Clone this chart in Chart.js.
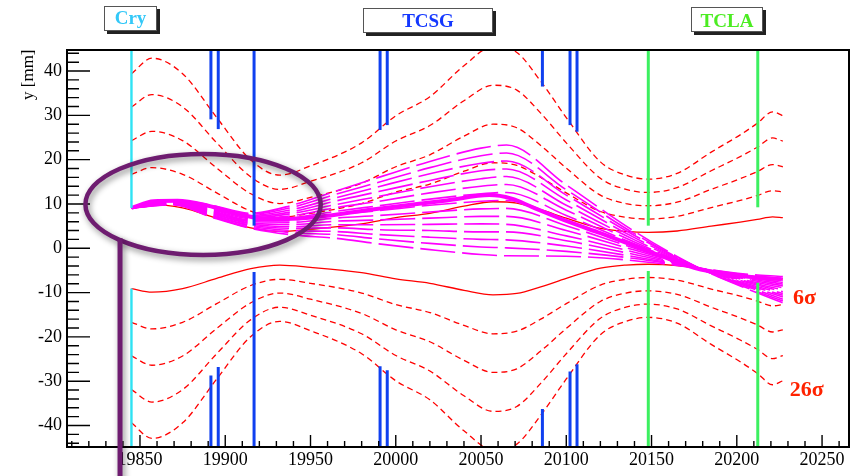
<!DOCTYPE html>
<html><head><meta charset="utf-8">
<script src="https://cdn.jsdelivr.net/npm/chart.js@4.4.0/dist/chart.umd.min.js"></script>
<style>html,body{margin:0;padding:0;background:#fff;}#wrap{width:856px;height:476px;}</style>
</head><body><div id="wrap"><canvas id="c" width="856" height="476"></canvas></div>
<script>
// ---- beam envelopes (n-sigma), s in m, y in mm ----
const envS    = [19845, 19857, 19875, 19895, 19915, 19932, 19950, 19980, 20000, 20020, 20040, 20057, 20071, 20085, 20100, 20120, 20135, 20148, 20165, 20185, 20202, 20212, 20221, 20227];
const env6Up  = [9.1, 9.9, 9.1, 6.8, 4.6, 3.8, 4.3, 5.5, 6.9, 7.9, 9.5, 10.5, 10.2, 8.7, 6.8, 4.5, 3.8, 3.6, 3.9, 5.0, 5.9, 6.5, 7.1, 6.9];
const env11Up = [16.7, 18.2, 16.7, 12.5, 8.4, 7.0, 7.9, 10.1, 12.7, 14.5, 17.4, 19.3, 18.7, 16.0, 12.5, 8.3, 7.0, 6.6, 7.2, 9.2, 10.8, 11.9, 13.0, 12.7];
const env16Up = [24.3, 26.4, 24.3, 18.1, 12.3, 10.1, 11.5, 14.7, 18.4, 21.1, 25.3, 28.0, 27.2, 23.2, 18.1, 12.0, 10.1, 9.6, 10.4, 13.3, 15.7, 17.3, 18.9, 18.4];
const env21Up = [31.9, 34.7, 31.9, 23.8, 16.1, 13.3, 15.1, 19.3, 24.2, 27.7, 33.3, 36.8, 35.7, 30.5, 23.8, 15.8, 13.3, 12.6, 13.7, 17.5, 20.7, 22.8, 24.9, 24.2];
const env26Up = [39.4, 42.9, 39.4, 29.5, 19.9, 16.5, 18.6, 23.8, 29.9, 34.2, 41.2, 45.5, 44.2, 37.7, 29.5, 19.5, 16.5, 15.6, 16.9, 21.7, 25.6, 28.2, 30.8, 29.9];
const env6Lo  = [-9.1, -9.9, -9.1, -6.8, -4.6, -3.8, -4.3, -5.5, -6.9, -7.9, -9.5, -10.5, -10.2, -8.7, -6.8, -4.5, -3.8, -3.6, -3.9, -5.0, -5.9, -6.5, -7.1, -6.9];
const env11Lo = [-16.7, -18.2, -16.7, -12.5, -8.4, -7.0, -7.9, -10.1, -12.7, -14.5, -17.4, -19.3, -18.7, -16.0, -12.5, -8.3, -7.0, -6.6, -7.2, -9.2, -10.8, -11.9, -13.0, -12.7];
const env16Lo = [-24.3, -26.4, -24.3, -18.1, -12.3, -10.1, -11.5, -14.7, -18.4, -21.1, -25.3, -28.0, -27.2, -23.2, -18.1, -12.0, -10.1, -9.6, -10.4, -13.3, -15.7, -17.3, -18.9, -18.4];
const env21Lo = [-31.9, -34.7, -31.9, -23.8, -16.1, -13.3, -15.1, -19.3, -24.2, -27.7, -33.3, -36.8, -35.7, -30.5, -23.8, -15.8, -13.3, -12.6, -13.7, -17.5, -20.7, -22.8, -24.9, -24.2];
const env26Lo = [-39.4, -42.9, -39.4, -29.5, -19.9, -16.5, -18.6, -23.8, -29.9, -34.2, -41.2, -45.5, -44.2, -37.7, -29.5, -19.5, -16.5, -15.6, -16.9, -21.7, -25.6, -28.2, -30.8, -29.9];

// ---- channeled-particle fan (magenta dashed) ----
const fanS = [19845, 19870, 19892, 19915, 19940, 19964, 19990, 20020, 20050, 20065, 20100, 20140, 20178, 20205, 20227];
const fan00 = [9.1, 10.9, 9.7, 7.9, 9.8, 12.8, 16.0, 19.6, 22.6, 23.3, 14.3, 3.8, -4.5, -9.0, -12.3];
const fan01 = [9.1, 10.8, 9.5, 7.7, 9.3, 12.1, 14.9, 18.2, 20.9, 21.5, 13.2, 3.3, -4.5, -8.8, -11.9];
const fan02 = [9.1, 10.7, 9.3, 7.4, 8.8, 11.3, 13.9, 16.8, 19.2, 19.7, 12.0, 2.9, -4.5, -8.5, -11.5];
const fan03 = [9.1, 10.7, 9.1, 7.2, 8.3, 10.6, 12.8, 15.3, 17.5, 17.9, 10.9, 2.4, -4.5, -8.3, -11.0];
const fan04 = [9.1, 10.6, 8.9, 6.9, 7.9, 9.8, 11.7, 13.9, 15.7, 16.2, 9.7, 1.9, -4.5, -8.1, -10.6];
const fan05 = [9.1, 10.5, 8.7, 6.7, 7.4, 9.1, 10.6, 12.5, 14.0, 14.4, 8.6, 1.4, -4.5, -7.9, -10.2];
const fan06 = [9.1, 10.4, 8.5, 6.4, 6.9, 8.3, 9.6, 11.1, 12.3, 12.6, 7.4, 1.0, -4.5, -7.6, -9.8];
const fan07 = [9.1, 10.4, 8.4, 6.2, 6.4, 7.6, 8.5, 9.7, 10.6, 10.8, 6.3, 0.5, -4.5, -7.4, -9.4];
const fan08 = [9.1, 10.3, 8.2, 6.0, 5.9, 6.8, 7.4, 8.2, 8.9, 9.0, 5.1, 0.0, -4.5, -7.2, -8.9];
const fan09 = [9.1, 10.2, 8.0, 5.7, 5.4, 6.1, 6.4, 6.8, 7.2, 7.2, 4.0, -0.4, -4.5, -6.9, -8.5];
const fan10 = [9.1, 10.1, 7.8, 5.5, 4.9, 5.3, 5.3, 5.4, 5.5, 5.4, 2.8, -0.9, -4.5, -6.7, -8.1];
const fan11 = [9.1, 10.0, 7.6, 5.2, 4.5, 4.6, 4.2, 4.0, 3.7, 3.7, 1.7, -1.4, -4.5, -6.5, -7.7];
const fan12 = [9.1, 10.0, 7.4, 5.0, 4.0, 3.8, 3.1, 2.5, 2.0, 1.9, 0.5, -1.9, -4.5, -6.3, -7.2];
const fan13 = [9.1, 9.9, 7.2, 4.7, 3.5, 3.1, 2.1, 1.1, 0.3, 0.1, -0.7, -2.3, -4.5, -6.0, -6.8];
const fan14 = [9.1, 9.8, 7.0, 4.5, 3.0, 2.3, 1.0, -0.3, -1.4, -1.7, -1.8, -2.8, -4.5, -5.8, -6.4];

// ---- nominal channeled trajectory (thick magenta) ----
const beamS = [19845, 19858, 19872, 19890, 19905, 19918, 19935, 19955, 19985, 20010, 20030, 20055, 20068, 20080, 20102, 20120, 20150, 20175, 20195, 20215, 20226];
const beamY = [9.1, 10.6, 10.7, 9.6, 8.0, 6.9, 6.6, 7.1, 8.7, 9.9, 10.8, 12.0, 11.2, 9.3, 5.9, 3.4, -0.9, -4.4, -5.9, -6.7, -7.0];

// ---- collimator jaws ----
const cryS = [19845];
const cryUp = [9.1];
const cryLo = [-9.1];
const tcsgS  = [19891.6, 19895.9, 19916.9, 19990.8, 19995.0, 20086.0, 20102.2, 20106.3];
const tcsgUp = [29.1, 26.9, 5.1, 26.7, 27.8, 36.5, 27.8, 26.3];
const tcsgLo = [-28.7, -26.8, -5.35, -26.6, -27.5, -36.3, -27.8, -26.2];
const tclaS  = [20148.1, 20212.3];
const tclaUp = [5.1, 9.25];
const tclaLo = [-5.1, -7.8];

// ---- axes ----
const xTicks = [19850, 19900, 19950, 20000, 20050, 20100, 20150, 20200, 20250];
const yTicks = [-40, -30, -20, -10, 0, 10, 20, 30, 40];
const xMin = 19807.2, xMax = 20265.8, yMin = -44.85, yMax = 44.75;

const SERIF = "'Liberation Serif', 'Times New Roman', serif";
const pts = (xs, ys) => xs.map((x, i) => ({x: x, y: ys[i]}));

const datasets = [];
function jaws(xs, edgesUp, edgesLo, color, w) {
  xs.forEach((s, i) => {
    datasets.push({data: [{x: s, y: edgesUp[i]}, {x: s, y: yMax}], borderColor: color, borderWidth: w, order: 0});
    datasets.push({data: [{x: s, y: edgesLo[i]}, {x: s, y: yMin}], borderColor: color, borderWidth: w, order: 0});
  });
}
jaws(cryS, cryUp, cryLo, '#2fe3f4', 2.4);
jaws(tcsgS, tcsgUp, tcsgLo, '#1040f0', 3);
jaws(tclaS, tclaUp, tclaLo, '#3cf060', 3);

datasets.push({data: pts(beamS, beamY), borderColor: '#ff00ff', borderWidth: 4, order: 1, cubicInterpolationMode: 'monotone'});
[fan00, fan01, fan02, fan03, fan04, fan05, fan06, fan07, fan08, fan09, fan10, fan11, fan12, fan13, fan14].forEach(f => {
  datasets.push({data: pts(fanS, f), borderColor: '#ff00ff', borderWidth: 1.6, borderDash: [35, 7], order: 2, cubicInterpolationMode: 'monotone'});
});
[[env6Up, []], [env6Lo, []], [env11Up, [6, 4]], [env11Lo, [6, 4]], [env16Up, [6, 4]], [env16Lo, [6, 4]],
 [env21Up, [6, 4]], [env21Lo, [6, 4]], [env26Up, [6, 4]], [env26Lo, [6, 4]]].forEach(([e, d]) => {
  datasets.push({data: pts(envS, e), borderColor: '#ff0000', borderWidth: 1.3, borderDash: d, order: 3, cubicInterpolationMode: 'monotone'});
});
datasets.forEach(d => { d.pointRadius = 0; d.fill = false; d.clip = 0; d.borderCapStyle = 'butt'; });

// decorations
const ellipseS = 19887, ellipseY = 9.9, ellipseRS = 69, ellipseRY = 11.4, pointerS = 19838.3;
const labels = [{t: '6σ', s: 20233, y: -12.6}, {t: '26σ', s: 20231, y: -33.3}];
const boxes = [
  {t: 'Cry',  x0: 104, y0: 6, x1: 157, y1: 31, base: 24, c: '#33c8f8'},
  {t: 'TCSG', x0: 363, y0: 8, x1: 493, y1: 33, base: 27.3, c: '#1438ff'},
  {t: 'TCLA', x0: 691, y0: 7, x1: 763, y1: 32, base: 26.7, c: '#4cec22'}
];

const deco = {
  id: 'deco',
  afterDraw(chart) {
    const {ctx, chartArea: a} = chart;
    const x = chart.scales.x, y = chart.scales.y;
    ctx.save();
    // inward tick marks
    ctx.strokeStyle = '#000';
    ctx.lineWidth = 1.4;
    ctx.beginPath();
    for (let v = -44; v <= 44; v += 2) {
      const py = y.getPixelForValue(v);
      const len = (v % 10 === 0) ? 23 : 12;
      ctx.moveTo(a.left, py); ctx.lineTo(a.left + len, py);
    }
    for (let v = 19810; v <= 20260; v += 10) {
      const px = x.getPixelForValue(v);
      const len = (v % 50 === 0) ? 12 : 6;
      ctx.moveTo(px, a.bottom); ctx.lineTo(px, a.bottom - len);
    }
    ctx.stroke();
    // frame
    ctx.lineWidth = 2;
    ctx.strokeRect(a.left, a.top, a.right - a.left, a.bottom - a.top);
    // n-sigma labels
    ctx.fillStyle = '#ff2200';
    ctx.font = 'bold 22px ' + SERIF;
    ctx.textAlign = 'left'; ctx.textBaseline = 'alphabetic';
    labels.forEach(l => ctx.fillText(l.t, x.getPixelForValue(l.s), y.getPixelForValue(l.y)));
    // y title
    ctx.save();
    ctx.translate(33, 100); ctx.rotate(-Math.PI / 2);
    ctx.fillStyle = '#000'; ctx.font = '17px ' + SERIF;
    ctx.fillText('y [mm]', 0, 0);
    ctx.restore();
    // boxes
    boxes.forEach(b => {
      ctx.fillStyle = '#222';
      ctx.fillRect(b.x0 + 3, b.y0 + 3, b.x1 - b.x0, b.y1 - b.y0);
      ctx.fillStyle = '#fff';
      ctx.fillRect(b.x0, b.y0, b.x1 - b.x0, b.y1 - b.y0);
      ctx.strokeStyle = '#555'; ctx.lineWidth = 1;
      ctx.strokeRect(b.x0 + 0.5, b.y0 + 0.5, b.x1 - b.x0 - 1, b.y1 - b.y0 - 1);
      ctx.fillStyle = b.c; ctx.font = 'bold 19px ' + SERIF; ctx.textAlign = 'center';
      ctx.fillText(b.t, (b.x0 + b.x1) / 2, b.base);
    });
    // ellipse highlight + pointer
    const cx = x.getPixelForValue(ellipseS), cy = y.getPixelForValue(ellipseY);
    const rx = x.getPixelForValue(ellipseS + ellipseRS) - cx;
    const ry = cy - y.getPixelForValue(ellipseY + ellipseRY);
    const px = x.getPixelForValue(pointerS);
    const t = (px - cx) / rx;
    const py = cy + ry * Math.sqrt(Math.max(0, 1 - t * t));
    ctx.shadowColor = 'rgba(0,0,0,0.45)'; ctx.shadowBlur = 6; ctx.shadowOffsetX = 2; ctx.shadowOffsetY = 3;
    ctx.strokeStyle = '#6e1c70'; ctx.lineWidth = 4.5;
    ctx.beginPath(); ctx.ellipse(cx, cy, rx, ry, 0, 0, Math.PI * 2); ctx.stroke();
    ctx.lineWidth = 5;
    ctx.beginPath(); ctx.moveTo(px, py - 2); ctx.lineTo(px, chart.height + 5); ctx.stroke();
    ctx.restore();
  }
};

new Chart(document.getElementById('c'), {
  type: 'line',
  data: {datasets: datasets},
  plugins: [deco],
  options: {
    responsive: false, animation: false, devicePixelRatio: 1,
    layout: {padding: {left: 0, right: 7, top: 50, bottom: 0}},
    plugins: {legend: {display: false}, tooltip: {enabled: false}},
    elements: {point: {radius: 0}},
    scales: {
      x: {
        type: 'linear', min: xMin, max: xMax,
        grid: {display: false, drawTicks: false}, border: {display: false},
        afterBuildTicks: s => { s.ticks = xTicks.map(v => ({value: v})); },
        afterFit: s => { s.height = 29; },
        ticks: {autoSkip: false, maxRotation: 0, padding: 2, color: '#000', font: {family: SERIF, size: 18}, callback: v => String(v)}
      },
      y: {
        type: 'linear', min: yMin, max: yMax,
        grid: {display: false, drawTicks: false}, border: {display: false},
        afterBuildTicks: s => { s.ticks = yTicks.map(v => ({value: v})); },
        afterFit: s => { s.width = 67; },
        ticks: {autoSkip: false, padding: 5, color: '#000', font: {family: SERIF, size: 18}, callback: v => String(v)}
      }
    }
  }
});
</script></body></html>
